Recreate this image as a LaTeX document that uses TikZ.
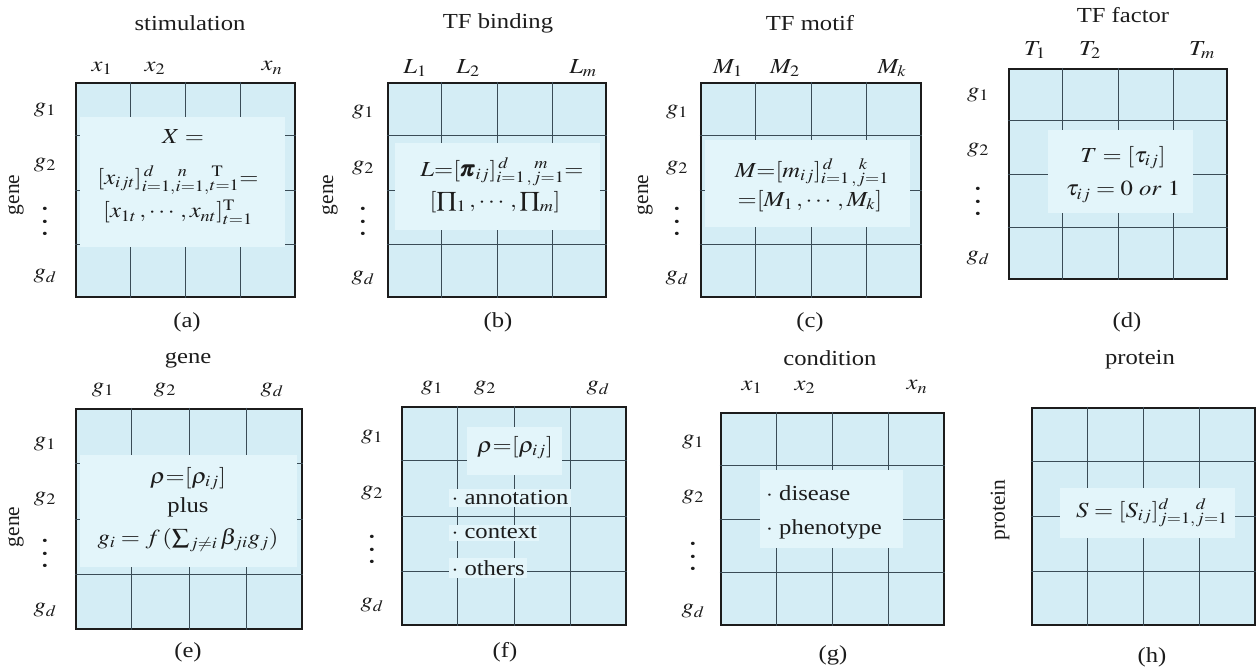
\documentclass[tikz,border=0pt]{standalone}
\usepackage{amsmath}
\usepackage{mathptmx}
\usepackage{fontspec}
\setmainfont{Liberation Serif}
\usepackage{tikz}
\usetikzlibrary{positioning, calc, fit}
\definecolor{cellblue}{RGB}{212,237,245}
\definecolor{patchblue}{RGB}{227,245,250}
\definecolor{gridgray}{RGB}{58,76,86}
\definecolor{inkdark}{RGB}{28,28,28}
\newcommand{\tallvdots}{\vbox{\fontsize{14}{12.5}\selectfont\baselineskip=12.5pt\lineskiplimit=0pt
  \hbox{\textbullet}\hbox{\textbullet}\hbox{\textbullet}}}
\tikzset{
  matbox/.style={rectangle, draw=inkdark, fill=cellblue, line width=2.6pt, inner sep=0pt},
  patch/.style={rectangle, fill=patchblue, inner sep=0pt},
  gridline/.style={draw=gridgray, line width=0.9pt},
  lbl/.style={font=\fontsize{21.5}{24}\selectfont, text=inkdark, xscale=1.15, inner sep=0pt},
  sidelbl/.style={font=\fontsize{21.5}{24}\selectfont, text=inkdark, rotate=90, inner sep=0pt},
  bullet/.style={lbl, fill=patchblue, anchor=west, inner sep=2pt}
}
\begin{document}
\begin{tikzpicture}[x=1bp, y=-1bp]
  \useasboundingbox (0,0) rectangle (1258,669);

  % Matrices
  \node[matbox, fit={(76,83) (295,297)}] (ma) {};
  \node[matbox, fit={(388,83) (606,297)}] (mb) {};
  \node[matbox, fit={(701,83) (921,297)}] (mc) {};
  \node[matbox, fit={(1009,69) (1227,279)}] (md) {};
  \node[matbox, fit={(76,409) (302,629)}] (me) {};
  \node[matbox, fit={(402,407) (626,625)}] (mf) {};
  \node[matbox, fit={(721,413) (944,625)}] (mg) {};
  \node[matbox, fit={(1032,408) (1255,625)}] (mh) {};

  % Grid lines
  \foreach \m in {ma,mb,mc,md,me,mf,mg,mh}
    \foreach \f in {0.25,0.5,0.75} {
      \draw[gridline] ($(\m.north west)!\f!(\m.north east)$) -- ($(\m.south west)!\f!(\m.south east)$);
      \draw[gridline] ($(\m.north west)!\f!(\m.south west)$) -- ($(\m.north east)!\f!(\m.south east)$);
    }

  % Formula patches
  \node[patch, fit={(80,117) (285,247)}] (pa) {};
  \node[patch, fit={(395,143) (600,230)}] (pb) {};
  \node[patch, fit={(705,140) (910,227)}] (pc) {};
  \node[patch, fit={(1048,130) (1193,213)}] (pd) {};
  \node[patch, fit={(80,455) (297,567)}] (pe) {};
  \node[patch, fit={(467,427) (562,475)}] (pf) {};
  \node[patch, fit={(760,470) (903,548)}] (pg) {};
  \node[patch, fit={(1060,488) (1235,538)}] (ph) {};

  % (a) stimulation
  \node[lbl] (tia) at (190,23) {stimulation};
  \node[lbl] (ca1) at (102,68) {$x_1$};
  \node[lbl] (ca2) at (155,68) {$x_2$};
  \node[lbl] (ca3) at (272,68) {$x_n$};
  \node[lbl] (ra1) at (45,110) {$g_1$};
  \node[lbl] (ra2) at (45,165) {$g_2$};
  \node[lbl] (ra3) at (45,223) {\tallvdots};
  \node[lbl] (ra4) at (45,276) {$g_d$};
  \node[sidelbl] (sa) at (16,195) {gene};
  \node[lbl] (fa1) at (183,137) {$X=$};
  \node[lbl] (fa2) at (178,180) {$[x_{ijt}]^{\,d}_{i=1,}{}^{\,n}_{i=1,}{}^{\,\mathrm{T}}_{t=1}{=}$};
  \node[lbl] (fa3) at (178,212) {$[x_{1t}\,,\cdots,x_{nt}]^{\mathrm{T}}_{t=1}$};
  \node[lbl] (na) at (187,322) {(a)};

  % (b) TF binding
  \node[lbl] (tib) at (498,23) {TF binding};
  \node[lbl] (cb1) at (415,68) {$L_1$};
  \node[lbl] (cb2) at (468,68) {$L_2$};
  \node[lbl] (cb3) at (583,68) {$L_m$};
  \node[lbl] (rb1) at (363,112) {$g_1$};
  \node[lbl] (rb2) at (363,168) {$g_2$};
  \node[lbl] (rb3) at (363,223) {\tallvdots};
  \node[lbl] (rb4) at (363,278) {$g_d$};
  \node[sidelbl] (sb) at (330,195) {gene};
  \node[lbl] (fb1) at (502,172) {$L{=}[\pmb{\pi}_{ij}]^{\,d}_{i=1\,,}{}^{\,m}_{j=1}{=}$};
  \node[lbl] (fb2) at (495,202) {$[\textstyle\prod_1\,,\cdots,\prod_m]$};
  \node[lbl] (nb) at (498,322) {(b)};

  % (c) TF motif
  \node[lbl] (tic) at (810,23) {TF motif};
  \node[lbl] (cc1) at (728,68) {$M_1$};
  \node[lbl] (cc2) at (785,68) {$M_2$};
  \node[lbl] (cc3) at (892,68) {$M_k$};
  \node[lbl] (rc1) at (677,112) {$g_1$};
  \node[lbl] (rc2) at (677,168) {$g_2$};
  \node[lbl] (rc3) at (677,223) {\tallvdots};
  \node[lbl] (rc4) at (677,278) {$g_d$};
  \node[sidelbl] (sc) at (645,195) {gene};
  \node[lbl] (fc1) at (812,173) {$M{=}[m_{ij}]^{\,d}_{i=1\,,}{}^{\,k}_{j=1}$};
  \node[lbl] (fc2) at (810,201) {${=}[M_1\,,\cdots,M_k]$};
  \node[lbl] (nc) at (810,322) {(c)};

  % (d) TF factor
  \node[lbl] (tid) at (1123,15) {TF factor};
  \node[lbl] (cd1) at (1035,50) {$T_1$};
  \node[lbl] (cd2) at (1090,50) {$T_2$};
  \node[lbl] (cd3) at (1202,50) {$T_m$};
  \node[lbl] (rd1) at (978,95) {$g_1$};
  \node[lbl] (rd2) at (978,150) {$g_2$};
  \node[lbl] (rd3) at (978,203) {\tallvdots};
  \node[lbl] (rd4) at (978,258) {$g_d$};
  \node[lbl] (fd1) at (1123,158) {$T=[\tau_{ij}]$};
  \node[lbl] (fd2) at (1123,192) {$\tau_{ij}=0\ \mathit{or}\ 1$};
  \node[lbl] (nd) at (1127,322) {(d)};

  % (e) gene--gene
  \node[lbl] (tie) at (188,360) {gene};
  \node[lbl] (ce1) at (103,390) {$g_1$};
  \node[lbl] (ce2) at (165,390) {$g_2$};
  \node[lbl] (ce3) at (272,390) {$g_d$};
  \node[lbl] (re1) at (45,444) {$g_1$};
  \node[lbl] (re2) at (45,499) {$g_2$};
  \node[lbl] (re3) at (45,555) {\tallvdots};
  \node[lbl] (re4) at (45,610) {$g_d$};
  \node[sidelbl] (se) at (16,527) {gene};
  \node[lbl] (fe1) at (188,479) {$\rho{=}[\rho_{ij}]$};
  \node[lbl] (fe2) at (188,507) {plus};
  \node[lbl] (fe3) at (188,540) {$g_i=f\,(\textstyle\sum_{j\neq i}\beta_{ji}g_j)$};
  \node[lbl] (ne) at (188,652) {(e)};

  % (f) annotation
  \node[lbl] (cf1) at (432,388) {$g_1$};
  \node[lbl] (cf2) at (485,388) {$g_2$};
  \node[lbl] (cf3) at (598,388) {$g_d$};
  \node[lbl] (rf1) at (372,437) {$g_1$};
  \node[lbl] (rf2) at (372,493) {$g_2$};
  \node[lbl] (rf3) at (372,551) {\tallvdots};
  \node[lbl] (rf4) at (372,605) {$g_d$};
  \node[lbl] (ff1) at (515,448) {$\rho{=}[\rho_{ij}]$};
  \node[bullet] (ff2) at (449,498) {$\cdot$ annotation};
  \node[bullet] (ff3) at (449,533) {$\cdot$ context};
  \node[bullet] (ff4) at (449,568) {$\cdot$ others};
  \node[lbl] (nf) at (505,652) {(f)};

  % (g) condition
  \node[lbl] (tig) at (830,358) {condition};
  \node[lbl] (cg1) at (752,387) {$x_1$};
  \node[lbl] (cg2) at (805,387) {$x_2$};
  \node[lbl] (cg3) at (917,387) {$x_n$};
  \node[lbl] (rg1) at (693,442) {$g_1$};
  \node[lbl] (rg2) at (693,497) {$g_2$};
  \node[lbl] (rg3) at (693,558) {\tallvdots};
  \node[lbl] (rg4) at (693,611) {$g_d$};
  \node[lbl, anchor=west] (fg1) at (766,493) {$\cdot$ disease};
  \node[lbl, anchor=west] (fg2) at (766,529) {$\cdot$ phenotype};
  \node[lbl] (ng) at (833,655) {(g)};

  % (h) protein
  \node[lbl] (tih) at (1140,360) {protein};
  \node[sidelbl] (sh) at (1000,510) {protein};
  \node[lbl] (fh1) at (1152,513) {$S=[S_{ij}]^{d}_{j=1,}{}^{d}_{j=1}$};
  \node[lbl] (nh) at (1152,657) {(h)};
\end{tikzpicture}
\end{document}
